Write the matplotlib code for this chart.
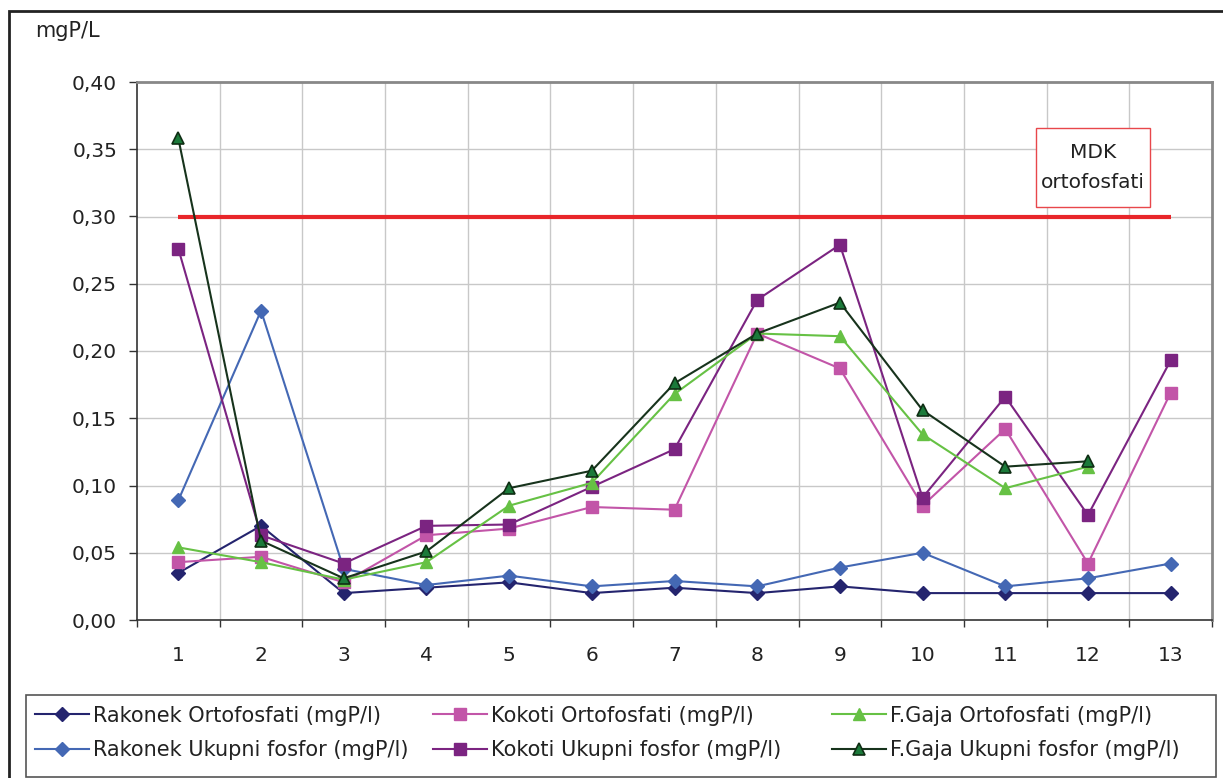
import numpy as np
import matplotlib
matplotlib.use("Agg")
import matplotlib.pyplot as plt
from matplotlib.patches import Rectangle
from matplotlib.ticker import FuncFormatter

plt.rcParams['font.family'] = ['DejaVu Sans']

# data
categories = list(range(1, 14))
rakonek_orto = [0.035, 0.070, 0.020, 0.024, 0.028, 0.020, 0.024, 0.020, 0.025, 0.020, 0.020, 0.020, 0.020]
rakonek_uk = [0.089, 0.230, 0.038, 0.026, 0.033, 0.025, 0.029, 0.025, 0.039, 0.050, 0.025, 0.031, 0.042]
kokoti_orto = [0.043, 0.047, 0.028, 0.063, 0.068, 0.084, 0.082, 0.213, 0.187, 0.085, 0.142, 0.042, 0.169]
kokoti_uk = [0.276, 0.063, 0.042, 0.070, 0.071, 0.099, 0.127, 0.238, 0.279, 0.091, 0.166, 0.078, 0.193]
gaja_orto = [0.054, 0.043, 0.030, 0.043, 0.085, 0.102, 0.168, 0.213, 0.211, 0.138, 0.098, 0.114]
gaja_uk = [0.358, 0.059, 0.031, 0.051, 0.098, 0.111, 0.176, 0.213, 0.236, 0.156, 0.114, 0.118]
mdk = 0.30

labels = ['Rakonek Ortofosfati (mgP/l)', 'Rakonek Ukupni fosfor (mgP/l)',
          'Kokoti Ortofosfati (mgP/l)', 'Kokoti Ukupni fosfor (mgP/l)',
          'F.Gaja Ortofosfati (mgP/l)', 'F.Gaja Ukupni fosfor (mgP/l)']

W, H = 1223, 778
fig = plt.figure(figsize=(W / 100, H / 100), dpi=100)
ax = fig.add_axes([137 / W, 1 - 620 / H, (1212 - 137) / W, (620 - 82) / H])

# outer chart frame
fig.patches.append(Rectangle((9 / W, -0.05), 1.1, 1 - 11 / H + 0.05, transform=fig.transFigure,
                             fill=False, edgecolor='#222222', lw=2))

fs = 14.5

# grid
for v in np.arange(0.05, 0.40, 0.05):
    ax.axhline(v, color='#c8c8c8', lw=1, zorder=0)
for b in np.arange(1.5, 13, 1):
    ax.axvline(b, color='#c8c8c8', lw=1, zorder=0)

# MDK line
ax.hlines(mdk, categories[0], categories[-1], color='#e8262a', lw=3, zorder=1)

lines = []
lines += ax.plot(categories, rakonek_orto, color='#24246e', marker='D', ms=7.5, lw=1.5, zorder=3)
lines += ax.plot(categories, rakonek_uk, color='#4468b4', marker='D', ms=7.5, lw=1.5, zorder=3)
lines += ax.plot(categories, kokoti_orto, color='#c255a8', marker='s', ms=8, lw=1.5, zorder=3)
lines += ax.plot(categories, kokoti_uk, color='#7b2481', marker='s', ms=8, lw=1.5, zorder=3)
lines += ax.plot(categories[:len(gaja_orto)], gaja_orto, color='#66c144', marker='^', ms=9, lw=1.5, zorder=3)
lines += ax.plot(categories[:len(gaja_uk)], gaja_uk, color='#17331c', marker='^', ms=9, lw=1.5,
                 mfc='#1b7a3a', mec='#0f2e14', mew=1.2, zorder=4)

# MDK box
ax.add_patch(Rectangle((11.37, 0.307), 1.38, 0.0588, facecolor='white', edgecolor='#e8474b',
                       lw=1, zorder=5))
ax.text(12.06, 0.3365, 'MDK\nortofosfati', ha='center', va='center', fontsize=fs,
        linespacing=1.7, color='#222222', zorder=6)

ax.set_xlim(0.5, 13.5)
ax.set_ylim(0, 0.40)
ax.set_yticks(np.arange(0, 0.401, 0.05))
ax.yaxis.set_major_formatter(FuncFormatter(lambda v, p: f'{v:.2f}'.replace('.', ',')))
ax.set_xticks(np.arange(0.5, 13.6, 1))
ax.set_xticklabels([])
ax.set_xticks(categories, minor=True)
ax.set_xticklabels([str(c) for c in categories], minor=True)
ax.tick_params(axis='x', which='major', length=5, width=1, color='#333333')
ax.tick_params(axis='x', which='minor', length=0, pad=18.5, labelsize=fs, labelcolor='#222222')
ax.tick_params(axis='y', length=5.8, width=1, color='#333333', labelsize=fs, labelcolor='#222222', pad=8.6)

for s in ['left', 'bottom']:
    ax.spines[s].set_color('#333333')
    ax.spines[s].set_linewidth(1.2)
for s in ['top', 'right']:
    ax.spines[s].set_color('#888888')
    ax.spines[s].set_linewidth(2)

fig.text(35 / W, 1 - 31 / H, 'mgP/L', fontsize=fs + 0.5, va='center', ha='left', color='#222222')

# legend: frame plus three one-column legends
fig.patches.append(Rectangle((26 / W, 1 - 777 / H), (1216 - 26) / W, (777 - 695) / H,
                             transform=fig.transFigure, fill=False, edgecolor='#555555', lw=1.2))
for k, x0 in enumerate([35, 433, 832]):
    leg = fig.legend(lines[2 * k:2 * k + 2], labels[2 * k:2 * k + 2], loc='center left',
                     bbox_to_anchor=(x0 / W, 1 - 733 / H), borderaxespad=0, borderpad=0,
                     frameon=False, fontsize=15, handlelength=2.6, handletextpad=0.2,
                     labelspacing=0.7)
    for t in leg.get_texts():
        t.set_color('#222222')

fig.savefig('out.png', dpi=100)
